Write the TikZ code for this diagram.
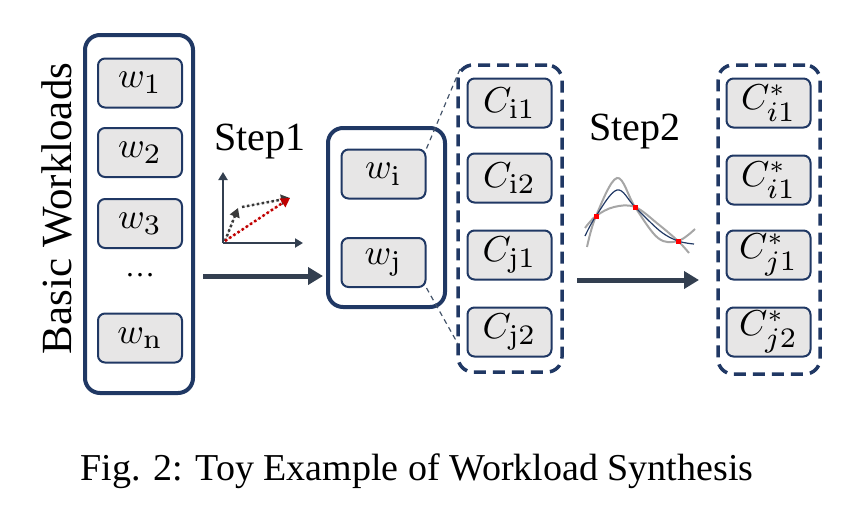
\documentclass[tikz,border=0pt]{standalone}
\usepackage{graphicx}
\usepackage[no-math]{fontspec}
\setmainfont{Liberation Serif}
\usetikzlibrary{arrows.meta}
\definecolor{navy}{HTML}{203864}
\definecolor{slate}{HTML}{333F50}
\definecolor{boxgray}{HTML}{E7E6E6}
\definecolor{conn}{HTML}{44546A}
\definecolor{darkred}{HTML}{C00000}
\definecolor{curvegray}{HTML}{A6A6A6}
\newcommand{\lblmath}[1]{\scalebox{3.6}{$#1$}}
\newcommand{\bigsub}[1]{\scalebox{1.12}{$\scriptstyle #1$}}
\tikzset{
  itembox/.style={draw=navy, fill=boxgray, rounded corners=7pt, line width=2pt,
    minimum width=84pt, minimum height=49pt, inner sep=0pt},
  solidgroup/.style={draw=navy, rounded corners=15pt, line width=4pt, inner sep=0pt},
  dashgroup/.style={draw=navy, rounded corners=15pt, line width=3.5pt, inner sep=0pt,
    dash pattern=on 12pt off 7pt},
  bigarrow/.style={draw=slate, line width=5pt, -{Triangle[length=15pt,width=17pt]}},
  axisline/.style={draw=slate, line width=2.5pt, -{Triangle[length=8pt,width=9pt]}},
  dotarrow/.style={line width=2.5pt, dash pattern=on 2.5pt off 2.5pt, -{Triangle[length=9pt,width=10pt]}},
  connline/.style={draw=conn, line width=1.2pt, dash pattern=on 5pt off 4pt},
  bigtext/.style={inner sep=0pt},
}
\begin{document}
\begin{tikzpicture}[x=1pt,y=-1pt]
\useasboundingbox (0,0) rectangle (850,528);

% left group
\node[solidgroup, minimum width=108pt, minimum height=358pt] (leftgrp) at (139,214) {};
\node[itembox] (w1) at (140,83) {\lblmath{w_{\bigsub{1}}}};
\node[itembox] (w2) at (140,152.5) {\lblmath{w_{\bigsub{2}}}};
\node[itembox] (w3) at (140,223.5) {\lblmath{w_{\bigsub{3}}}};
\node[inner sep=0pt, font=\fontsize{30}{34}\selectfont] (dots) at (140,275) {…};
\node[itembox] (wn) at (140,338) {\lblmath{w_{\bigsub{\mathrm{n}}}}};
\node[bigtext, rotate=90, font=\fontsize{43}{48}\selectfont] (basic) at (57,208.5) {Basic Workloads};

% step 1
\node[bigtext, anchor=base, font=\fontsize{40}{44}\selectfont] (step1) at (260,150) {Step1};
\coordinate (o) at (223,243);
\coordinate (ya) at (223,172);
\coordinate (xa) at (303,243);
\draw[axisline] (o) -- (ya);
\draw[axisline] (o) -- (xa);
\coordinate (o2) at (225,241);
\coordinate (g1) at (238,208);
\coordinate (g2s) at (242,207);
\coordinate (g2e) at (290,198);
\coordinate (r1) at (290,198);
\draw[dotarrow, draw=darkgray!90!black, fill=darkgray!90!black] (o2) -- (g1);
\draw[dotarrow, draw=darkgray!90!black, fill=darkgray!90!black] (g2s) -- (g2e);
\draw[dotarrow, draw=darkred, fill=darkred] (o2) -- (r1);
\coordinate (a1s) at (203,276);
\coordinate (a1e) at (323,276);
\draw[bigarrow] (a1s) -- (a1e);

% middle group
\node[solidgroup, minimum width=117pt, minimum height=179pt] (midgrp) at (386.5,217.5) {};
\node[itembox] (wi) at (383.5,174) {\lblmath{w_{\bigsub{\mathrm{i}}}}};
\node[itembox] (wj) at (383.5,262.5) {\lblmath{w_{\bigsub{\mathrm{j}}}}};

% C group
\node[dashgroup, minimum width=104pt, minimum height=307pt] (cgrp) at (510,218.5) {};
\node[itembox] (ci1) at (509.5,103) {\lblmath{C_{\bigsub{\mathrm{i1}}}}};
\node[itembox] (ci2) at (509.5,178) {\lblmath{C_{\bigsub{\mathrm{i2}}}}};
\node[itembox] (cj1) at (509.5,255) {\lblmath{C_{\bigsub{\mathrm{j1}}}}};
\node[itembox] (cj2) at (509.5,332) {\lblmath{C_{\bigsub{\mathrm{j2}}}}};
\coordinate (ctop) at (460,69);
\coordinate (cbot) at (458,344);
\draw[connline] (wi.north east) -- (ctop);
\draw[connline] (wj.south east) -- (cbot);

% step 2
\node[bigtext, anchor=base, font=\fontsize{40}{44}\selectfont] (step2) at (635,140) {Step2};
\draw[curvegray, line width=2pt] plot[smooth, tension=0.6] coordinates {(587,247) (596,216) (617,178) (635,207) (658,238) (678,241) (695,229)};
\draw[curvegray, line width=2pt] plot[smooth, tension=0.6] coordinates {(585,228) (596,216) (614,207) (635,207) (658,224) (678,241) (689,253)};
\draw[navy, line width=1.2pt] plot[smooth, tension=0.6] coordinates {(585,236) (596,216) (617,190) (635,207) (660,231) (678,241) (694,244)};
\fill[red] (593.5,213.5) rectangle (598.5,218.5);
\fill[red] (632.5,204.5) rectangle (637.5,209.5);
\fill[red] (675.5,238.5) rectangle (680.5,243.5);
\coordinate (a2s) at (577,280);
\coordinate (a2e) at (699,280);
\draw[bigarrow] (a2s) -- (a2e);

% C* group
\node[dashgroup, minimum width=102pt, minimum height=309pt] (sgrp) at (769,219.5) {};
\node[itembox] (s1) at (768.5,103) {\lblmath{C^{*}_{\bigsub{i1}}}};
\node[itembox] (s2) at (768.5,180) {\lblmath{C^{*}_{\bigsub{i1}}}};
\node[itembox] (s3) at (768.5,255) {\lblmath{C^{*}_{\bigsub{j1}}}};
\node[itembox] (s4) at (768.5,332) {\lblmath{C^{*}_{\bigsub{j2}}}};

% caption
\node[bigtext, anchor=base, font=\fontsize{38}{42}\selectfont] (caption) at (417,480) {Fig. 2: Toy Example of Workload Synthesis};
\end{tikzpicture}
\end{document}
